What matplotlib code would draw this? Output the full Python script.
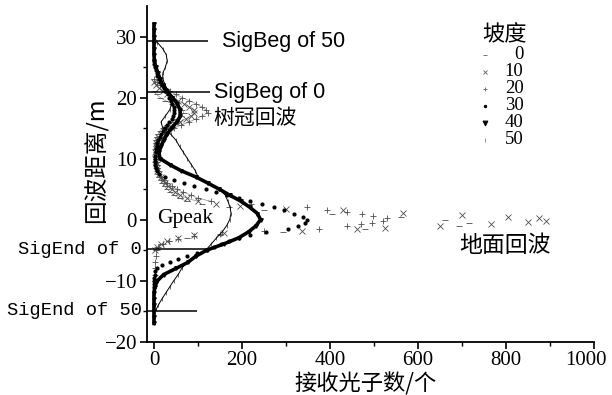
import numpy as np
import matplotlib
matplotlib.use("Agg")
import matplotlib.pyplot as plt
from matplotlib.transforms import ScaledTranslation

plt.rcParams['font.family'] = ['Liberation Serif', 'Noto Sans CJK SC']

# --- waveform data: distance (m) vs received photon count, per slope ---
slopes = ["0", "10", "20", "30", "40", "50"]

d0 = np.arange(21, -5.5, -0.5)
c0 = [0, 6, 14, 26, 40, 54, 64, 68, 62, 52,
      40, 29, 20, 13, 9, 6, 5, 5, 6, 5,
      6, 7, 6, 7, 8, 8, 9, 10, 12, 15,
      19, 24, 30, 37, 46, 58, 75, 110, 170, 250,
      405, 560, 660, 715, 692, 480, 292, 150, 75, 35,
      16, 8, 5]

d10 = [22.5, 22, 21.5, 21, 20.5, 20, 19.5, 19, 18.5, 18,
       17.5, 17, 16.5, 16, 15.5, 15, 14.5, 14, 13.5, 13,
       12.5, 12, 11.5, 11, 10.5, 10, 9.5, 9, 8.5, 8,
       7.5, 7, 6.5, 6, 5.5, 5, 4.5, 4, 3.5, 3,
       2.5, 2.2, 1.8, 1.5, 1.1, 0.8, 0.5, 0.25, -0.15, -0.45,
       -0.75, -1.0, -1.3, -1.55, -1.8, -2.2, -2.6, -3.0, -3.5, -4,
       -4.5, -5]
c10 = [0, 5, 12, 20, 30, 42, 55, 68, 80, 90,
       92, 85, 72, 58, 44, 32, 22, 15, 10, 7,
       5, 4, 4, 3, 4, 3, 4, 5, 6, 8,
       11, 15, 20, 25, 31, 40, 48, 59, 75, 100,
       140, 195, 300, 430, 566, 700, 805, 875, 890, 850,
       765, 650, 525, 460, 337, 160, 90, 55, 30, 15,
       8, 3]

d20 = [23, 22.5, 22, 21.5, 21, 20.5, 20, 19.5, 19, 18.5,
       18, 17.5, 17, 16.5, 16, 15.5, 15, 14.5, 14, 13.5,
       13, 12.5, 12, 11.5, 11, 10.5, 10, 9.5, 9, 8.5,
       8, 7.5, 7, 6.5, 6, 5.5, 5, 4.5, 4, 3.5,
       3, 2.5, 2.0, 1.5, 1.2, 0.9, 0.6, 0.3, -0.2, -0.5,
       -0.8, -1.1, -1.5, -1.9, -2.3, -2.7, -3.1, -3.5, -4, -4.5,
       -5, -6, -7, -8, -9, -10]
c20 = [0, 6, 14, 24, 36, 50, 64, 80, 95, 108,
       118, 122, 110, 95, 80, 62, 45, 32, 22, 15,
       10, 7, 6, 5, 4, 5, 4, 5, 6, 7,
       9, 12, 16, 22, 30, 40, 52, 66, 85, 100,
       130, 220, 348, 394, 438, 472, 497, 530, 520, 495,
       470, 438, 374, 250, 150, 90, 55, 35, 20, 10,
       5, 4, 3, 3, 2, 2]

d30 = np.arange(26, -11.5, -0.5)
c30 = [0, 1, 2, 4, 6, 8, 11, 14, 18, 22,
       26, 31, 35, 39, 42, 45, 46, 46, 44, 40,
       35, 30, 25, 20, 16, 13, 10, 8, 6, 5,
       4, 3, 3, 3, 3, 4, 6, 12, 25, 45,
       68, 92, 118, 142, 166, 192, 218, 245, 272, 296,
       318, 338, 347, 342, 326, 305, 255, 218, 192, 170,
       152, 136, 120, 98, 76, 55, 36, 18, 7, 3,
       2, 1, 1, 1, 0]

d40 = np.arange(32, -18, -1)
c40 = [0, 0, 0, 0, 0, 0, 1, 4, 9, 14,
       20, 30, 42, 53, 59, 60, 52, 40, 30, 22,
       16, 11, 14, 36, 62, 95, 122, 148, 172, 198,
       218, 235, 242, 232, 215, 192, 158, 120, 95, 77,
       50, 22, 8, 2, 0, 0, 0, 0, 0, 0]

d50 = np.arange(30, -16, -1)
c50 = [0, 8, 20, 28, 30, 26, 20, 20, 26, 33,
       38, 40, 36, 26, 16, 20, 38, 50, 58, 67,
       76, 85, 94, 100, 120, 148, 162, 168, 173, 175,
       172, 165, 155, 142, 130, 118, 95, 75, 63, 55,
       45, 36, 27, 18, 10, 3]

# signal begin / end marks (distance, line end count, label)
sig_labels = ["SigBeg of 50", "SigBeg of 0", "SigEnd of 0", "SigEnd of 50"]
sig_dist = [29.2, 20.9, -4.85, -14.9]
sig_len = [123, 127, 120, 98]

fig = plt.figure(figsize=(6.12, 3.95), dpi=100)
ax = fig.add_axes([0.2397, 0.135, 0.7314, 0.8498])
ax.set_xlim(-16.5, 1000)
ax.set_ylim(-20, 35)

# grey canopy-heavy series (0, 10, 20)
grey_series = [(d0, c0, '_'), (d10, c10, 'x'), (d20, c20, '+')]
for d, c, m in grey_series:
    d = np.asarray(d, float)
    c = np.asarray(c, float)
    keep = d >= 3
    ax.plot(c[keep], d[keep], color='0.55', lw=0.5, zorder=2)
    ax.plot(c, d, ls='none', marker=m, ms=4.5, mew=0.6, color='0.3', zorder=3)

ax.plot(c30, d30, ls='none', marker='.', ms=4, color='black', zorder=4)
ax.plot(c40, d40, color='black', lw=2.6, marker='v', ms=2.5, zorder=5)
ax.plot(c50, d50, color='black', lw=0.7, marker='|', ms=2.5, mew=0.4, zorder=4)

# SigBeg / SigEnd lines
ax.hlines(sig_dist, -16.5, sig_len, color='black', lw=1.1, zorder=6)
ax.text(154, sig_dist[0], sig_labels[0], va='center', ha='left',
        family='Liberation Sans', fontsize=15.5)
ax.text(136, sig_dist[1], sig_labels[1], va='center', ha='left',
        family='Liberation Sans', fontsize=15.5)
for lab, y in zip(sig_labels[2:], sig_dist[2:]):
    ax.text(-27, y, lab, va='center', ha='right', family='Liberation Mono',
            fontsize=13.5, clip_on=False)

ax.text(134, 16.7, "树冠回波", va='center', ha='left',
        family='Noto Sans CJK SC', fontsize=15)
ax.text(693, -4.2, "地面回波", va='center', ha='left',
        family='Noto Sans CJK SC', fontsize=16.5)
ax.text(7, 0.2, "Gpeak", va='center', ha='left', fontsize=15.5, zorder=7)

# legend drawn by hand (markers left, numbers right-aligned)
leg_markers = ['_', 'x', '+', '.', 'v', '|']
leg_colors = ['0.45', '0.45', '0.45', 'black', 'black', '0.55']
ax.text(0.80, 0.913, "坡度", transform=ax.transAxes, ha='center', va='center',
        family='Noto Sans CJK SC', fontsize=16)
for i, (lab, m, col) in enumerate(zip(slopes, leg_markers, leg_colors)):
    yy = 0.855 - i * 0.0506
    ax.plot([0.756], [yy], marker=m, ms=3.5, mew=0.7, color=col,
            transform=ax.transAxes, clip_on=False)
    ax.text(0.842, yy, lab, transform=ax.transAxes, ha='right', va='center',
            fontsize=13.5)

# axes styling
for s in ('top', 'right'):
    ax.spines[s].set_visible(False)
for s in ('left', 'bottom'):
    ax.spines[s].set_linewidth(1.3)
ax.set_xticks([0, 200, 400, 600, 800, 1000])
ax.set_xticks([100, 300, 500, 700, 900], minor=True)
ax.set_yticks([-20, -10, 0, 10, 20, 30])
ax.set_yticks([-15, -5, 5, 15, 25], minor=True)
ax.set_yticklabels(["\u221220", "\u221210", "0", "10", "20", "30"])
ax.tick_params(which='major', length=5, width=1.2, labelsize=15, pad=2)
ax.tick_params(which='minor', length=3, width=1.0)

# keep "1000" inside the canvas, as in the original
last = ax.get_xticklabels()[-1]
last.set_transform(last.get_transform() + ScaledTranslation(-6 / 72, 0, fig.dpi_scale_trans))

ax.set_xlabel("接收光子数/个", family='Noto Sans CJK SC', fontsize=16)
ax.xaxis.set_label_coords(0.49, -0.092)
ax.set_ylabel("回波距离/m", family='Noto Sans CJK SC', fontsize=17)
ax.yaxis.set_label_coords(-0.085, 0.54)

fig.savefig("out.png", dpi=100, facecolor='white')
